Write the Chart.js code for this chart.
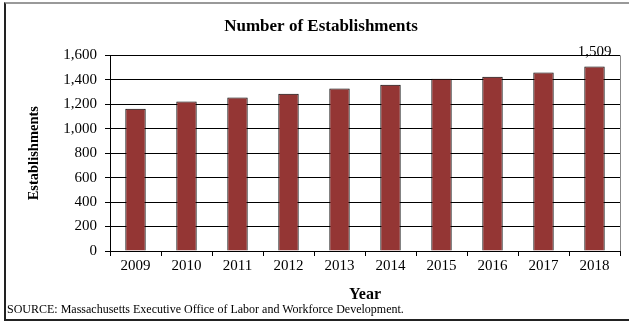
<!DOCTYPE html>
<html>
<head>
<meta charset="utf-8">
<script src="https://cdn.jsdelivr.net/npm/chart.js@4"></script>
<style>
  body { margin: 0; background: #fff; overflow: hidden; }
  #wrap { position: relative; width: 629px; height: 322px; overflow: hidden; }
  #frame { position: absolute; left: 4px; top: 2px; width: 640px; height: 315px; border-left: 2px solid #222; border-top: 2px solid #999; border-bottom: 2px solid #222; }
  #source { position: absolute; left: 7px; top: 302px; font: 12px "Liberation Serif", serif; color: #000; }
  canvas { position: absolute; left: 0; top: 0; }
</style>
</head>
<body>
<div id="wrap">
  <div id="frame"></div>
  <canvas id="chart" width="629" height="322"></canvas>
  <div id="source">SOURCE: Massachusetts Executive Office of Labor and Workforce Development.</div>
</div>
<script>
// values
const years = ['2009', '2010', '2011', '2012', '2013', '2014', '2015', '2016', '2017', '2018'];
const establishments = [1163, 1222, 1255, 1286, 1329, 1360, 1409, 1425, 1460, 1509];
const labelledIndex = 9; // only the last bar carries a value label

const serif = '"Liberation Serif", "Times New Roman", serif';

// value label above the last bar + the thin right edge of the plot area
const extras = {
    id: 'extras',
    afterDatasetsDraw(chart) {
        const ctx = chart.ctx;
        const area = chart.chartArea;
        ctx.save();
        ctx.strokeStyle = '#888';
        ctx.lineWidth = 1;
        ctx.beginPath();
        ctx.moveTo(area.right + 0.5, area.top);
        ctx.lineTo(area.right + 0.5, area.bottom);
        ctx.stroke();

        const bar = chart.getDatasetMeta(0).data[labelledIndex];
        ctx.font = '15px ' + serif;
        ctx.fillStyle = '#000';
        ctx.textAlign = 'center';
        ctx.textBaseline = 'alphabetic';
        ctx.fillText(establishments[labelledIndex].toLocaleString('en-US'), bar.x, bar.y - 11);
        ctx.restore();
    }
};

new Chart(document.getElementById('chart'), {
    type: 'bar',
    data: {
        labels: years,
        datasets: [{
            label: 'Establishments',
            data: establishments,
            backgroundColor: '#943634',
            borderColor: '#000',
            borderWidth: 1,
            barPercentage: 0.4,
            categoryPercentage: 1
        }]
    },
    options: {
        responsive: false,
        animation: false,
        layout: { padding: { left: 22, right: 9, top: 0, bottom: 18 } },
        plugins: {
            legend: { display: false },
            tooltip: { enabled: false },
            title: {
                display: true,
                text: 'Number of Establishments',
                color: '#000',
                font: { family: serif, size: 17, weight: 'bold' },
                padding: { top: 16, bottom: 19 }
            }
        },
        scales: {
            x: {
                offset: true,
                grid: { offset: true, drawOnChartArea: false, color: '#000', tickLength: 5 },
                border: { color: '#000' },
                ticks: { color: '#000', font: { family: serif, size: 15 }, padding: 1, maxRotation: 0 },
                title: {
                    display: true,
                    text: 'Year',
                    color: '#000',
                    font: { family: serif, size: 16, weight: 'bold' },
                    padding: { top: 4, bottom: 0 }
                },
                afterFit: (scale) => { scale.height = 53; }
            },
            y: {
                min: 0,
                max: 1600,
                grid: { color: '#000', tickLength: 5 },
                border: { color: '#000' },
                ticks: {
                    stepSize: 200,
                    color: '#000',
                    padding: 8,
                    font: { family: serif, size: 15 },
                    callback: (v) => v.toLocaleString('en-US')
                },
                title: {
                    display: true,
                    text: 'Establishments',
                    color: '#000',
                    font: { family: serif, size: 14.5, weight: 'bold' }
                },
                afterFit: (scale) => { scale.width = 88; }
            }
        }
    },
    plugins: [extras]
});
</script>
</body>
</html>
